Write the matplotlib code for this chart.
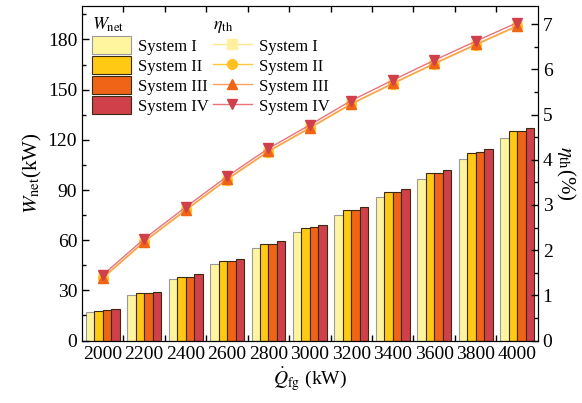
import numpy as np
import matplotlib.pyplot as plt
from matplotlib.ticker import MultipleLocator, FixedLocator

plt.rcParams['font.family'] = 'Liberation Serif'
plt.rcParams['mathtext.fontset'] = 'stix'

q_fg = ['2000', '2200', '2400', '2600', '2800', '3000', '3200', '3400', '3600', '3800', '4000']

# net power (kW)
w_sys1 = [17.3, 27.1, 36.7, 45.7, 55.3, 64.9, 75.2, 85.7, 96.7, 108.7, 121.3]
w_sys2 = [17.9, 28.3, 38.1, 47.5, 57.9, 67.5, 78.1, 88.7, 100.3, 112.3, 125.3]
w_sys3 = [18.0, 28.4, 38.2, 47.6, 58.0, 67.7, 78.2, 88.8, 100.4, 112.6, 125.5]
w_sys4 = [18.8, 29.3, 39.5, 49.0, 59.3, 69.3, 80.1, 90.7, 102.1, 114.3, 127.3]

# thermal efficiency (%)
eta_sys1 = [1.38, 2.18, 2.88, 3.56, 4.18, 4.70, 5.23, 5.68, 6.12, 6.54, 6.95]
eta_sys2 = [1.38, 2.18, 2.88, 3.56, 4.18, 4.70, 5.23, 5.68, 6.12, 6.54, 6.95]
eta_sys3 = [1.39, 2.19, 2.89, 3.57, 4.19, 4.71, 5.24, 5.69, 6.13, 6.55, 6.96]
eta_sys4 = [1.45, 2.25, 2.95, 3.63, 4.25, 4.77, 5.31, 5.76, 6.20, 6.62, 7.03]

names = ['System I', 'System II', 'System III', 'System IV']
bar_cols = ['#FFF59E', '#FFC914', '#F06418', '#D0404A']
bar_edge = ['#9A9A9A', '#3A2A10', '#3A2A10', '#3A2A10']
line_cols = ['#FFE98A', '#FFC83A', '#F7A060', '#E8747A']
mk_cols = ['#FFF0A0', '#FFC020', '#F06418', '#D0404A']
markers = ['s', 'o', '^', 'v']

fig = plt.figure(figsize=(5.82, 4.03), dpi=100)
ax = fig.add_axes([0.141, 0.155, 0.783, 0.830])
ax2 = ax.twinx()

x = np.arange(len(q_fg))
bw = 0.205
bars = []
for i, w in enumerate([w_sys1, w_sys2, w_sys3, w_sys4]):
    b = ax.bar(x + (i - 1.5) * bw, w, bw, color=bar_cols[i], edgecolor=bar_edge[i],
               linewidth=0.8, label=names[i])
    bars.append(b)

lines = []
for i, e in enumerate([eta_sys1, eta_sys2, eta_sys3, eta_sys4]):
    l, = ax2.plot(x, e, '-', color=line_cols[i], lw=1.0, marker=markers[i], ms=7,
                  mfc=mk_cols[i], mec=mk_cols[i], label=names[i])
    lines.append(l)

ax.set_xlim(-0.5, len(q_fg) - 0.5)
ax.set_ylim(0, 200)
ax2.set_ylim(0, 7.4)

ax.set_xticks(x)
ax.set_xticklabels(q_fg)
ax.xaxis.set_minor_locator(FixedLocator(x[:-1] + 0.5))
ax.tick_params(axis='x', which='major', length=0, labelsize=14, pad=4)
ax.tick_params(axis='x', which='minor', direction='in', length=4, top=True, width=1)
ax.yaxis.set_major_locator(MultipleLocator(30))
ax.yaxis.set_minor_locator(MultipleLocator(15))
ax.tick_params(axis='y', which='major', direction='in', length=5, labelsize=14, width=1)
ax.tick_params(axis='y', which='minor', direction='in', length=3, width=1)
ax2.yaxis.set_major_locator(MultipleLocator(1))
ax2.yaxis.set_minor_locator(MultipleLocator(0.5))
ax2.tick_params(axis='y', which='major', direction='in', length=5, labelsize=14, width=1)
ax2.tick_params(axis='y', which='minor', direction='in', length=3, width=1)

ax.set_xlabel(r'$\dot{Q}_{\rm fg}$ (kW)', fontsize=14, labelpad=2)
ax.set_ylabel(r'$W_{\rm net}$(kW)', fontsize=15, labelpad=3)
ax2.set_ylabel(r'$\eta_{\rm th}$(%)', fontsize=15, rotation=-90, labelpad=18)

leg1 = ax2.legend(bars, names, title=r'$W_{\rm net}$', loc='upper left',
                  bbox_to_anchor=(0.0, 1.0), frameon=False, fontsize=12,
                  title_fontsize=13, alignment='left', handlelength=2.35,
                  handleheight=1.25, labelspacing=0.1, handletextpad=0.4,
                  borderaxespad=0.2)
ax2.add_artist(leg1)
ax2.legend(lines, names, title=r'$\eta_{\rm th}$', loc='upper left',
           bbox_to_anchor=(0.265, 1.0), frameon=False, fontsize=12,
           title_fontsize=13, alignment='left', handlelength=2.35,
           handleheight=1.25, labelspacing=0.1, handletextpad=0.4,
           borderaxespad=0.2)

plt.savefig('out.png', dpi=100)
